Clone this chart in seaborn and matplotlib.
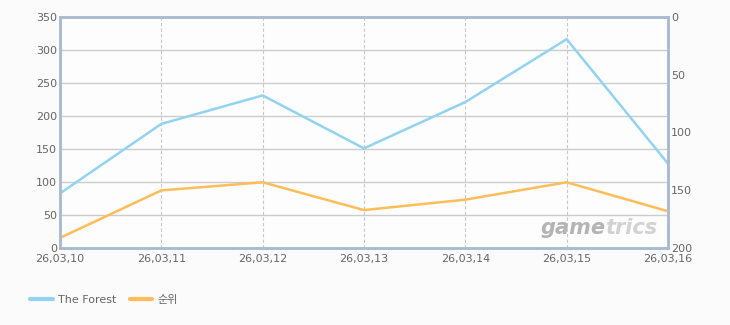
import matplotlib
matplotlib.use("Agg")
import matplotlib.pyplot as plt
import seaborn as sns
import pandas as pd
from matplotlib.lines import Line2D

dates = ["26,03,10", "26,03,11", "26,03,12", "26,03,13", "26,03,14", "26,03,15", "26,03,16"]
forest = [83, 188, 231, 151, 221, 316, 128]
rank = [191, 150, 143, 167, 158, 143, 168]
left_ticks = [0, 50, 100, 150, 200, 250, 300, 350]
right_ticks = [0, 50, 100, 150, 200]

sns.set_theme(style="white")
plt.rcParams['font.family'] = ['DejaVu Sans', 'Noto Sans CJK KR']

BLUE = "#92d3f2"
ORANGE = "#ffbd5a"
TXT = "#666666"
AX = "#a9bbd0"

fig = plt.figure(figsize=(7.3, 3.25), dpi=100, facecolor="#fbfbfb")
ax = fig.add_axes([60/730, 1-248.3/325, (668-60)/730, (248.3-16.7)/325])
ax.set_facecolor("#fdfdfd")

df = pd.DataFrame({"x": range(len(dates)), "forest": forest, "rank": rank})
sns.lineplot(data=df, x="x", y="forest", ax=ax, color=BLUE, linewidth=1.8)
ax.set_xlim(0, len(dates)-1)
ax.set_ylim(0, 350)
ax.set_yticks(left_ticks)
ax.set_yticklabels([str(v) for v in left_ticks])
ax.set_xticks(range(len(dates)))
ax.set_xticklabels(dates)
ax.set_xlabel("")
ax.set_ylabel("")
for v in left_ticks[1:-1]:
    ax.axhline(v, color="#cccccc", linewidth=1, zorder=0)
for i in range(1, len(dates)-1):
    ax.axvline(i, color="#c8c8c8", linewidth=0.8, linestyle=(0, (3, 2)), zorder=0)

ax2 = ax.twinx()
sns.lineplot(data=df, x="x", y="rank", ax=ax2, color=ORANGE, linewidth=1.8)
ax2.set_ylim(200, 0)
ax2.set_yticks(right_ticks)
ax2.set_yticklabels([str(v) for v in right_ticks])
ax2.set_ylabel("")
ax2.set_xlim(0, len(dates)-1)

for a in (ax, ax2):
    for s in a.spines.values():
        s.set_color(AX)
        s.set_linewidth(1.8)
    a.tick_params(axis="both", length=0, labelsize=8, colors=TXT, pad=2)
ax.tick_params(axis="x", pad=4)
ax2.tick_params(axis="y", pad=2)

ax.text(0.897, 0.045, "game", transform=ax.transAxes, fontsize=15, fontweight="bold",
        style="italic", color="#b4b4b4", ha="right", va="bottom", zorder=1)
ax.text(0.897, 0.045, "trics", transform=ax.transAxes, fontsize=15, fontweight="bold",
        style="italic", color="#d2d2d2", ha="left", va="bottom", zorder=1)

handles = [Line2D([0], [0], color=BLUE, linewidth=3), Line2D([0], [0], color=ORANGE, linewidth=3)]
fig.legend(handles, ["The Forest", "순위"], loc="center left", bbox_to_anchor=(0.028, 1-300/325),
           ncol=2, frameon=False, fontsize=8, handlelength=2.0, handletextpad=0.5,
           columnspacing=1.2, labelcolor=TXT)

fig.savefig("out.png", dpi=100, facecolor=fig.get_facecolor())
